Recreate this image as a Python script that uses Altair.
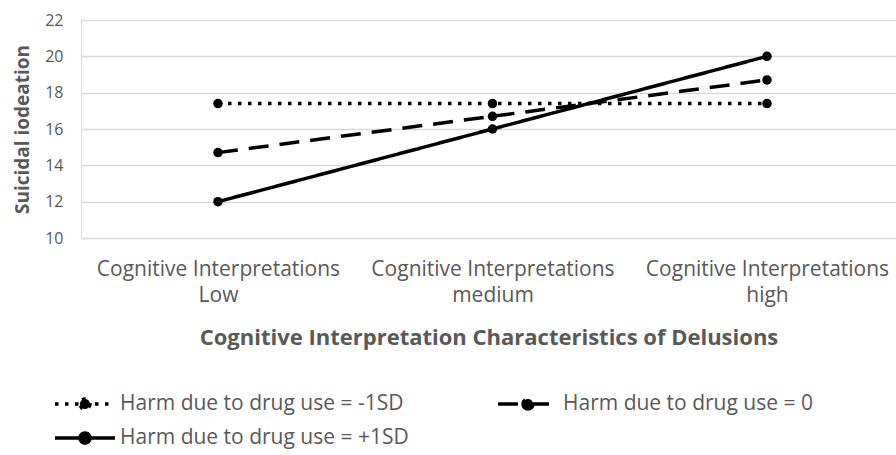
import altair as alt
import pandas as pd

categories = ["Cognitive Interpretations\nLow", "Cognitive Interpretations\nmedium", "Cognitive Interpretations\nhigh"]
series = ["Harm due to drug use = -1SD", "Harm due to drug use = 0", "Harm due to drug use = +1SD"]
minus_sd = [17.4, 17.4, 17.4]
zero_sd = [14.7, 16.7, 18.7]
plus_sd = [12.0, 16.0, 20.0]
y_ticks = [10, 12, 14, 16, 18, 20, 22]

rows = []
for name, vals in zip(series, [minus_sd, zero_sd, plus_sd]):
    for c, v in zip(categories, vals):
        rows.append({"cat": c, "series": name, "value": v})
df = pd.DataFrame(rows)

FONT = "Open Sans"
GRAY = "#595959"

x_enc = alt.X("cat:N", sort=categories,
              scale=alt.Scale(type="point", padding=0.4845, align=0.515),
              axis=alt.Axis(title="Cognitive Interpretation Characteristics of Delusions",
                            labelExpr="split(datum.label, '\\n')", labelLimit=400,
                            labelAngle=0, labelFontSize=21, labelColor=GRAY, labelFont=FONT,
                            labelLineHeight=26, labelPadding=20, domain=False, ticks=False,
                            grid=False, titleFont=FONT, titleFontSize=22, titleFontWeight="bold",
                            titleColor=GRAY, titlePadding=22))
y_enc = alt.Y("value:Q", scale=alt.Scale(domain=[10, 22], nice=False, zero=False),
              axis=alt.Axis(title="Suicidal iodeation", values=y_ticks, labelFontSize=16,
                            labelColor=GRAY, labelFont=FONT, labelPadding=18, domain=False,
                            ticks=False, grid=True, gridColor="#d9d9d9", gridWidth=1.5,
                            titleFont=FONT, titleFontSize=19, titleFontWeight="bold",
                            titleColor=GRAY, titlePadding=12))

legend_path = "M-3,0H3M0.5,0A0.5,0.5 0 1,1 -0.5,0A0.5,0.5 0 1,1 0.5,0"

lines = alt.Chart(df).mark_line(color="black", strokeWidth=3.5, strokeCap="butt").encode(
    x=x_enc, y=y_enc,
    strokeDash=alt.StrokeDash("series:N", sort=series,
                              scale=alt.Scale(domain=series, range=[[3.5, 6.5], [20, 11], [1, 0]]),
                              legend=alt.Legend(title=None, orient="none", legendX=-8, legendY=372,
                                                columns=2, direction="horizontal",
                                                symbolType=legend_path, symbolSize=400,
                                                symbolStrokeColor="black", symbolFillColor="black",
                                                symbolStrokeWidth=3.5, labelFontSize=21,
                                                labelColor=GRAY, labelFont=FONT, labelLimit=400,
                                                columnPadding=82, rowPadding=10, labelOffset=23)),
)
points = alt.Chart(df).mark_circle(color="black", size=90, opacity=1).encode(
    x=x_enc, y=y_enc, detail="series:N")

chart = (lines + points).properties(
    width=815, height=218,
    padding={"left": 81, "top": 20, "right": 0, "bottom": 217},
    autosize=alt.AutoSizeParams(type="none"),
).configure_view(stroke=None).configure(background="white")

chart.save("out.html", embed_options={"renderer": "svg", "actions": False})
